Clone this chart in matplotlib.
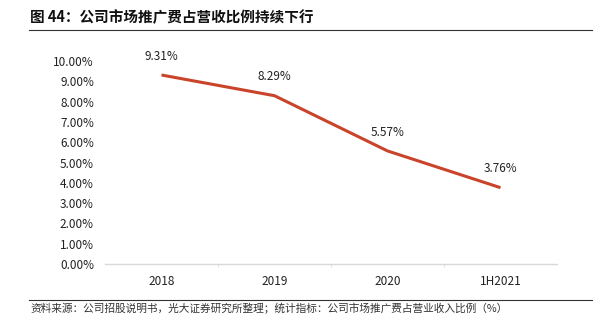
import matplotlib
matplotlib.use("Agg")
import matplotlib.pyplot as plt
from matplotlib.lines import Line2D

plt.rcParams['font.family'] = ['Noto Sans CJK SC', 'DejaVu Sans']

categories = ["2018", "2019", "2020", "1H2021"]
values = [9.31, 8.29, 5.57, 3.76]
yticks = [0, 1, 2, 3, 4, 5, 6, 7, 8, 9, 10]
title = "图 44：公司市场推广费占营收比例持续下行"
source = "资料来源：公司招股说明书，光大证券研究所整理；统计指标：公司市场推广费占营业收入比例（%）"

fig = plt.figure(figsize=(6.05, 3.28), dpi=100)
ax = fig.add_axes([105/605, 1-264/328, (557-105)/605, (264-61)/328])

x = list(range(len(categories)))
ax.plot(x, values, color='#C9442A', linewidth=2.2, solid_capstyle='butt', clip_on=False)
for xi, v in zip(x, values):
    ax.annotate(f"{v:.2f}%", (xi, v), xytext=(0, 13.5), textcoords='offset points',
                ha='center', va='center', fontsize=8.5, color='#222222')

ax.set_xlim(-0.5, len(categories) - 0.5)
ax.set_ylim(0, 10)
ax.set_yticks(yticks)
ax.set_yticklabels([f"{t:.2f}%" for t in yticks])
ax.set_xticks(x)
ax.set_xticklabels(categories)
ax.set_xticks([i + 0.5 for i in range(len(categories) - 1)], minor=True)

for s in ['top', 'right', 'left']:
    ax.spines[s].set_visible(False)
ax.spines['bottom'].set_color('#D9D9D9')
ax.spines['bottom'].set_linewidth(1.0)
ax.tick_params(axis='y', length=0, labelsize=8.5, labelcolor='#222222', pad=8)
ax.tick_params(axis='x', which='major', length=0, labelsize=8.5, labelcolor='#222222', pad=8)
ax.tick_params(axis='x', which='minor', length=2.5, color='#D9D9D9', direction='out')

fig.text(30/605, 1-17.5/328, title, fontsize=10.5, fontweight='bold', ha='left', va='center', color='#111111')
fig.add_artist(Line2D([29/605, 592/605], [1-29.5/328, 1-29.5/328], color='#333333', linewidth=0.8))
fig.add_artist(Line2D([29/605, 592/605], [1-300/328, 1-300/328], color='#333333', linewidth=0.8))
fig.text(30/605, 1-308.5/328, source, fontsize=7.7, ha='left', va='center', color='#333333')

fig.savefig("out.png", dpi=100)
